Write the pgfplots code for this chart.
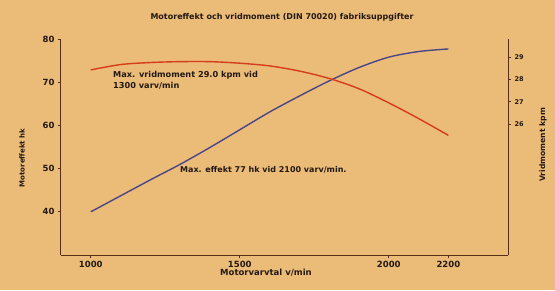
\documentclass[border=0pt]{standalone}
\usepackage{fontspec}
\setmainfont{DejaVu Sans}
\setsansfont{DejaVu Sans}
\usepackage{pgfplots}
\pgfplotsset{compat=1.18}
\definecolor{bg}{RGB}{235,187,120}
\definecolor{axc}{RGB}{85,45,25}
\definecolor{txt}{RGB}{35,25,20}
\definecolor{pw}{RGB}{75,70,135}
\definecolor{tq}{RGB}{215,60,25}
\begin{document}
\begin{tikzpicture}
\fill[bg] (-61pt,-35pt) rectangle (494pt,255pt);
\begin{axis}[
  at={(0pt,0pt)}, anchor=south west, scale only axis,
  width=447pt, height=216pt,
  xmin=900, xmax=2400, ymin=30, ymax=80,
  axis x line=bottom, axis y line=left,
  axis line style={-, draw=axc, line width=1pt},
  xtick={1000,1500,2000,2200}, ytick={40,50,60,70,80},
  tick align=outside, major tick length=3pt,
  tick style={draw=axc, line width=0.8pt},
  ticklabel style={font=\fontsize{8.5}{10}\selectfont\bfseries, text=txt},
  /pgf/number format/assume math mode=true,
  /pgf/number format/1000 sep={},
]
\addplot[pw, line width=1.4pt, smooth] coordinates {
(1000,40) (1100,43.7) (1200,47.4) (1300,51.0) (1400,54.9) (1500,59.0) (1600,63.1)
(1700,66.8) (1800,70.3) (1900,73.4) (2000,75.8) (2100,77.1) (2200,77.7)};
\end{axis}
\begin{axis}[
  at={(0pt,0pt)}, anchor=south west, scale only axis,
  width=447pt, height=216pt,
  xmin=900, xmax=2400, ymin=20.16, ymax=29.8,
  axis x line=none, axis y line=right,
  axis line style={-, draw=axc, line width=1pt},
  ytick={26,27,28,29},
  tick align=outside, major tick length=3pt,
  tick style={draw=axc, line width=0.8pt},
  ticklabel style={font=\fontsize{6.5}{8}\selectfont\bfseries, text=txt},
  /pgf/number format/assume math mode=true,
]
\addplot[tq, line width=1.4pt, smooth] coordinates {
(1000,28.42) (1100,28.66) (1200,28.75) (1300,28.79) (1400,28.79) (1500,28.72) (1600,28.6)
(1700,28.37) (1800,28.04) (1900,27.58) (2000,26.95) (2100,26.25) (2200,25.5)};
\end{axis}
\node[font=\fontsize{8}{10}\selectfont\bfseries, text=txt] at (221pt,238pt) {Motoreffekt och vridmoment (DIN 70020) fabriksuppgifter};
\node[font=\fontsize{8.2}{10}\selectfont\bfseries, text=txt, anchor=base west, inner sep=0pt] at (52pt,177.7pt) {Max. vridmoment 29.0 kpm vid};
\node[font=\fontsize{8.2}{10}\selectfont\bfseries, text=txt, anchor=base west, inner sep=0pt] at (52pt,166.7pt) {1300 varv/min};
\node[font=\fontsize{8}{10}\selectfont\bfseries, text=txt, anchor=base west, inner sep=0pt] at (119pt,82.3pt) {Max. effekt 77 hk vid 2100 varv/min.};
\node[font=\fontsize{7}{10}\selectfont\bfseries, text=txt, rotate=90] at (-39pt,97pt) {Motoreffekt hk};
\node[font=\fontsize{7.6}{10}\selectfont\bfseries, text=txt, rotate=90] at (482pt,110pt) {Vridmoment kpm};
\node[font=\fontsize{8.5}{10}\selectfont\bfseries, text=txt] at (205pt,-18pt) {Motorvarvtal v/min};
\end{tikzpicture}
\end{document}
